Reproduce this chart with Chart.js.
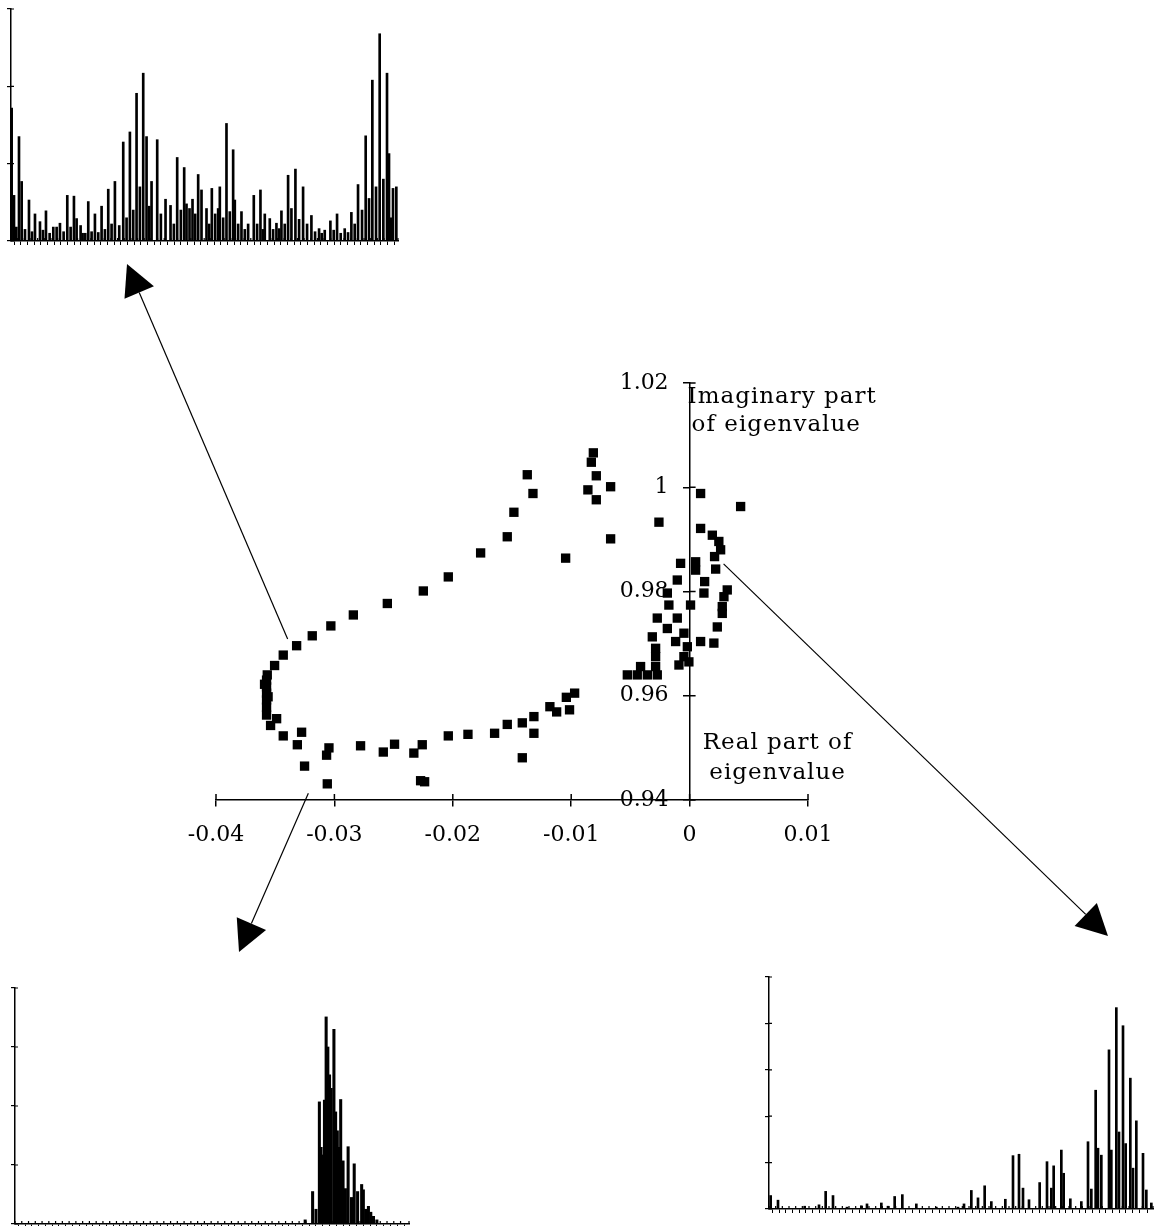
<!DOCTYPE html>
<html><head><meta charset="utf-8">
<script src="https://cdn.jsdelivr.net/npm/chart.js@4.4.0/dist/chart.umd.min.js"></script>
<style>
html,body{margin:0;padding:0;background:#fff;overflow:hidden;width:1154px;height:1226px;position:relative}
canvas{position:absolute}
</style></head><body>
<canvas id="main" width="1154" height="1226" style="left:0;top:0"></canvas>
<canvas id="tl"></canvas><canvas id="bl"></canvas><canvas id="br"></canvas>
<script>
// ---------- main scatter: eigenvalues ----------
const realPart = [
 -0.01371,-0.01323,-0.01484,-0.01540,-0.01765,-0.02038,-0.02249,-0.02553,-0.02840,-0.03030,
 -0.03187,-0.03319,-0.03432,-0.03505,-0.03567,-0.03573,-0.03573,-0.03573,-0.03573,-0.03573,
 -0.03573,-0.03590,-0.03560,-0.03488,-0.03539,-0.03432,-0.03277,-0.03313,-0.03252,-0.03060,
 -0.03066,-0.03046,-0.02779,-0.02587,-0.02492,-0.02329,-0.02258,-0.02272,-0.02238,-0.02038,
 -0.01872,-0.01647,-0.01540,-0.01413,-0.01315,-0.01315,-0.01413,-0.01180,-0.01123,-0.01041,
 -0.00971,-0.01014,-0.00813,-0.00830,-0.00788,-0.00667,-0.00859,-0.00788,-0.00667,-0.01047,
  0.00093, 0.00431,-0.00259, 0.00093, 0.00192, 0.00247, 0.00262, 0.00211, 0.00220, 0.00051,
 -0.00076, 0.00051,-0.00104, 0.00127, 0.00121, 0.00318, 0.00290, 0.00276, 0.00276,-0.00188,
 -0.00175, 0.00008,-0.00273,-0.00104,-0.00188, 0.00234,-0.00315,-0.00048,-0.00118, 0.00093,
  0.00205,-0.00019,-0.00287,-0.00287,-0.00048,-0.00090,-0.00006,-0.00414,-0.00526,-0.00442,
 -0.00357,-0.00273,-0.00287
];
const imagPart = [
 1.0024,0.9988,0.9952,0.9905,0.9874,0.9828,0.9801,0.9777,0.9755,0.9734,
 0.9715,0.9696,0.9678,0.9658,0.9640,0.9630,0.9617,0.9605,0.9592,0.9578,
 0.9563,0.9622,0.9598,0.9556,0.9543,0.9523,0.9530,0.9506,0.9465,0.9431,
 0.9486,0.9500,0.9504,0.9492,0.9507,0.9490,0.9506,0.9437,0.9435,0.9523,
 0.9526,0.9528,0.9545,0.9548,0.9560,0.9528,0.9481,0.9579,0.9569,0.9597,
 0.9605,0.9573,1.0066,1.0048,1.0022,1.0001,0.9995,0.9976,0.9901,0.9864,
 0.9988,0.9963,0.9933,0.9921,0.9908,0.9896,0.9880,0.9867,0.9843,0.9857,
 0.9854,0.9841,0.9822,0.9819,0.9797,0.9803,0.9790,0.9771,0.9758,0.9797,
 0.9774,0.9774,0.9749,0.9749,0.9729,0.9732,0.9713,0.9720,0.9704,0.9704,
 0.9701,0.9694,0.9691,0.9675,0.9675,0.9659,0.9665,0.9656,0.9640,0.9640,
 0.9640,0.9640,0.9656
];
const xTicksMain = [-0.04,-0.03,-0.02,-0.01,0,0.01];
const yTicksMain = [0.94,0.96,0.98,1,1.02];
const xTitle = ['Real part of','eigenvalue'];
const yTitle = ['Imaginary part','of eigenvalue'];

// ---------- inset spectra (channel position, amplitude) ----------
const tlPos = [0.2,0.9,2.4,3.2,5.4,7.2,8.7,10.5,12.7,13.7,14.7,16.9,18.9,19.7,20.9,21.5,23.2,25.2,27.2,29.2,
 31.2,33.7,35.7,37.7,39.7,40.7,42.2,43.9,46.4,47.9,49.9,52.0,52.7,54.5,56.2,57.2,58.7,60.3,62.2,62.7,
 64.7,66.7,67.2,69.2,71.2,72.9,74.9,76.2,77.7,79.7,81.2,83.2,84.2,85.4,87.7,90.2,92.5,94.2,95.9,97.9,
 100.2,102.2,104.2,106.5,108.5,110.7,112.9,113.5,114.7,115.7];
const tlVal = [1.72,0.59,1.35,0.77,0.53,0.35,0.25,0.39,0.18,0.18,0.23,0.59,0.58,0.29,0.20,0.10,0.51,0.35,0.45,0.67,
 0.77,1.28,1.41,1.91,2.17,1.35,0.77,1.31,0.54,0.46,1.08,0.95,0.48,0.54,0.86,0.66,0.42,0.68,0.42,0.70,
 1.52,1.18,0.53,0.38,0.22,0.59,0.66,0.35,0.29,0.23,0.39,0.85,0.42,0.93,0.70,0.33,0.16,0.14,0.26,0.35,
 0.16,0.37,0.73,1.36,2.08,2.68,2.17,1.13,0.68,0.70];
const tlFloorPos = [1.6,4.2,6.3,9.6,11.6,15.8,17.9,22.3,24.2,26.2,28.2,30.2,32.5,34.7,36.7,38.7,41.5,45.0,48.9,51.0,
 53.6,55.3,59.5,61.3,63.7,65.7,68.2,70.2,73.9,75.6,78.7,80.5,82.2,86.5,88.9,91.3,93.3,96.9,99.0,101.2,
 103.2,105.4,107.5,109.6,111.8,114.1];
const tlFloorVal = [0.18,0.15,0.12,0.14,0.10,0.12,0.18,0.10,0.12,0.11,0.15,0.22,0.20,0.30,0.40,0.70,0.45,0.35,0.22,0.40,
 0.42,0.35,0.22,0.35,0.30,0.38,0.22,0.15,0.22,0.15,0.15,0.16,0.22,0.28,0.22,0.12,0.10,0.14,0.10,0.11,
 0.22,0.40,0.55,0.70,0.80,0.30];

const blPos = [85.8,88.0,90.0,91.0,92.0,93.0,94.3,95.3,96.3,97.0,98.5,100.3,102.5,103.0,104.5,106.0,107.0];
const blVal = [0.07,0.55,2.07,1.17,3.51,2.53,3.30,1.58,2.11,1.07,1.31,1.02,0.67,0.58,0.30,0.13,0.07];
const blFloorPos = [89.0,90.5,91.5,92.5,93.5,94.8,95.8,97.7,99.5,101.3,103.7,105.2];
const blFloorVal = [0.25,1.30,2.10,3.00,2.30,1.90,1.30,0.60,0.45,0.55,0.25,0.20];

const brPos = [0.5,2.7,10.7,15.0,17.0,19.2,23.4,27.7,29.4,33.7,35.7,37.7,40.0,44.2,50.2,56.7,58.5,60.7,62.7,64.7,
 66.7,70.9,73.2,75.0,76.2,78.0,81.2,83.4,84.7,85.4,87.7,88.4,90.4,93.7,95.7,96.7,98.0,98.7,99.7,102.0,
 102.7,104.2,105.0,106.2,107.0,108.4,109.2,110.2,112.2,113.2,114.7];
const brVal = [0.29,0.19,0.06,0.09,0.38,0.29,0.04,0.07,0.11,0.13,0.06,0.27,0.31,0.11,0.04,0.04,0.11,0.40,0.24,0.50,
 0.16,0.21,1.15,1.18,0.45,0.20,0.57,1.02,0.45,0.93,1.27,0.77,0.22,0.16,1.45,0.43,2.56,1.31,1.16,3.43,
 1.27,4.34,1.66,3.95,1.41,2.82,0.88,1.90,1.20,0.41,0.13];

// ---------- arrows (from eigenvalue, data coords -> arrow tip, page px) ----------
const arrowFrom = [[-0.03395,0.9709],[-0.0322,0.9413],[0.00287,0.9853]];
const arrowTip = [[127,264],[239,952],[1108,936]];

const SERIF = "'DejaVu Serif', 'Liberation Serif', serif";
const fmt = v => String(+(+v).toFixed(4));

function axisPixel(chart, scale, fallback) {
  const p = scale.options.position;
  if (p && typeof p === 'object') {
    const id = Object.keys(p)[0];
    return chart.scales[id].getPixelForValue(p[id]);
  }
  return fallback;
}

const crossTicks = {
  id: 'crossTicks',
  afterDraw(chart, args, opts) {
    const ctx = chart.ctx;
    ctx.save();
    ctx.strokeStyle = '#000';
    ctx.lineWidth = opts.width || 1.5;
    const len = opts.len || 5;
    const xs = chart.scales.x, ys = chart.scales.y;
    const xAxisY = axisPixel(chart, xs, xs.top);
    const yAxisX = axisPixel(chart, ys, ys.right);
    ctx.beginPath();
    xs.ticks.forEach(t => { const px = xs.getPixelForValue(t.value); ctx.moveTo(px, xAxisY); ctx.lineTo(px, xAxisY - len); });
    ys.ticks.forEach(t => { const py = ys.getPixelForValue(t.value); ctx.moveTo(yAxisX, py); ctx.lineTo(yAxisX + len, py); });
    ctx.stroke();
    ctx.restore();
  }
};

const annot = {
  id: 'annot',
  afterDatasetsDraw(chart) {
    const ctx = chart.ctx, xs = chart.scales.x, ys = chart.scales.y;
    ctx.save();
    ctx.fillStyle = '#000';
    ctx.font = '23px ' + SERIF;
    try { ctx.letterSpacing = '1px'; } catch (e) {}
    const x0 = xs.getPixelForValue(0);
    const yTop = ys.getPixelForValue(1.02), yBot = ys.getPixelForValue(0.94);
    ctx.textAlign = 'left'; ctx.textBaseline = 'alphabetic';
    ctx.fillText(yTitle[0], x0 - 2, yTop + 20);
    ctx.fillText(yTitle[1], x0 + 2, yTop + 48);
    ctx.textAlign = 'center';
    ctx.fillText(xTitle[0], x0 + 88, yBot - 51);
    ctx.fillText(xTitle[1], x0 + 88, yBot - 21);
    try { ctx.letterSpacing = '0px'; } catch (e) {}
    ctx.strokeStyle = '#000'; ctx.lineWidth = 1.2;
    arrowFrom.forEach((f, i) => {
      const sx = xs.getPixelForValue(f[0]), sy = ys.getPixelForValue(f[1]);
      const [tx, ty] = arrowTip[i];
      const dx = tx - sx, dy = ty - sy, L = Math.hypot(dx, dy);
      const ux = dx / L, uy = dy / L, head = 31, half = 16;
      const bx = tx - ux * head, by = ty - uy * head;
      ctx.beginPath(); ctx.moveTo(sx, sy); ctx.lineTo(bx, by); ctx.stroke();
      ctx.beginPath();
      ctx.moveTo(tx, ty);
      ctx.lineTo(bx - uy * half, by + ux * half);
      ctx.lineTo(bx + uy * half, by - ux * half);
      ctx.closePath(); ctx.fill();
    });
    ctx.restore();
  }
};

new Chart(document.getElementById('main'), {
  type: 'scatter',
  data: { datasets: [{
    data: realPart.map((x, i) => ({ x, y: imagPart[i] })),
    pointStyle: 'rect', pointRadius: 6.6, pointHoverRadius: 6.6,
    backgroundColor: '#000', borderColor: '#000', borderWidth: 0
  }]},
  options: {
    responsive: false, animation: false,
    layout: { padding: { left: 216, right: 346, top: 383, bottom: 426 } },
    plugins: { legend: { display: false }, tooltip: { enabled: false }, crossTicks: { len: 6, width: 1.5 } },
    scales: {
      x: {
        type: 'linear', min: -0.04, max: 0.01, position: { y: 0.94 },
        afterBuildTicks: s => { s.ticks = xTicksMain.map(v => ({ value: v })); },
        ticks: { font: { family: SERIF, size: 22 }, color: '#000', padding: 16, maxRotation: 0, autoSkip: false, callback: v => fmt(v) },
        grid: { drawOnChartArea: false, tickLength: 6, color: '#000', lineWidth: 1.5 },
        border: { color: '#000', width: 1.5 }
      },
      y: {
        type: 'linear', min: 0.94, max: 1.02, position: { x: 0 },
        afterBuildTicks: s => { s.ticks = yTicksMain.map(v => ({ value: v })); },
        ticks: { font: { family: SERIF, size: 22 }, color: '#000', autoSkip: false, callback: v => fmt(v) + '   ' },
        grid: { drawOnChartArea: false, tickLength: 6, color: '#000', lineWidth: 1.5 },
        border: { color: '#000', width: 1.5 }
      }
    }
  },
  plugins: [crossTicks, annot]
});

function makeInset(id, rect, sets, yMax, xMax, thick) {
  const P = 20, TL = 4;
  const cv = document.getElementById(id);
  cv.width = rect.r - rect.l + 2 * P;
  cv.height = rect.b - rect.t + 2 * P;
  cv.style.left = (rect.l - P) + 'px';
  cv.style.top = (rect.t - P) + 'px';
  const axisStyle = { color: '#000', width: 1.5 };
  new Chart(cv, {
    type: 'bar',
    data: { datasets: sets.map(s => ({
      data: s[0].map((p, i) => ({ x: p, y: s[1][i] })),
      backgroundColor: '#000', borderWidth: 0, barThickness: thick, grouped: false
    }))},
    options: {
      responsive: false, animation: false,
      layout: { padding: { left: P - TL, right: P, top: P, bottom: P - TL } },
      plugins: { legend: { display: false }, tooltip: { enabled: false }, crossTicks: { len: 3, width: 1.2 } },
      scales: {
        x: { type: 'linear', min: 0, max: xMax, offset: false,
             ticks: { display: false, stepSize: 2 },
             grid: { drawOnChartArea: false, tickLength: TL, color: '#000', lineWidth: 1 }, border: axisStyle },
        y: { min: 0, max: yMax,
             ticks: { display: false, stepSize: 1 },
             grid: { drawOnChartArea: false, tickLength: TL, color: '#000', lineWidth: 1.2 }, border: axisStyle }
      }
    },
    plugins: [crossTicks]
  });
}

makeInset('tl', { l: 11, t: 9, r: 398, b: 241 }, [[tlPos, tlVal], [tlFloorPos, tlFloorVal]], 3, 116.2, 2);
makeInset('bl', { l: 15, t: 988, r: 409, b: 1224 }, [[blPos, blVal], [blFloorPos, blFloorVal]], 4, 116.5, 2.4);
makeInset('br', { l: 769, t: 977, r: 1153, b: 1209 }, [[brPos, brVal]], 5, 115.2, 2);
</script>
</body></html>
